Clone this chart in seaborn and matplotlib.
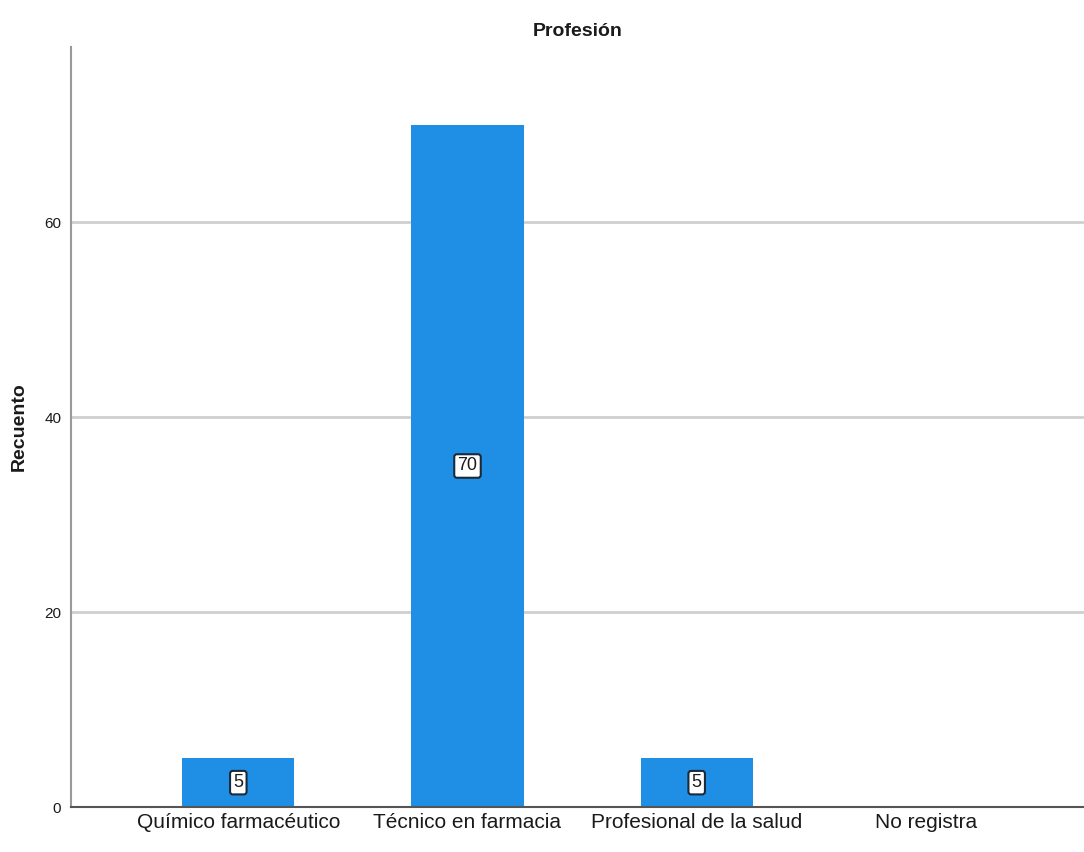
import matplotlib
matplotlib.use("Agg")
import matplotlib.pyplot as plt
import seaborn as sns
import pandas as pd
from matplotlib import font_manager

categories = ["Químico farmacéutico", "Técnico en farmacia", "Profesional de la salud", "No registra"]
counts = [5, 70, 5, 0]
yticks = [0, 20, 40, 60]

sns.set_theme(style="white")
names = {f.name for f in font_manager.fontManager.ttflist}
narrow = "Liberation Sans Narrow" if "Liberation Sans Narrow" in names else "Liberation Sans"
plt.rcParams['font.family'] = [narrow, 'DejaVu Sans']
plt.rcParams['text.color'] = '#1a1a1a'
plt.rcParams['xtick.color'] = '#1a1a1a'
plt.rcParams['ytick.color'] = '#1a1a1a'
plt.rcParams['axes.labelcolor'] = '#1a1a1a'

df = pd.DataFrame({"Profesión": categories, "Recuento": counts})

fig = plt.figure(figsize=(10.84, 8.52), dpi=100)
ax = fig.add_axes([0.0655, 0.0528, 0.9345, 0.892])
sns.barplot(data=df, x="Profesión", y="Recuento", order=categories, color="#1E8FE4",
            width=0.49, saturation=1, linewidth=0, ax=ax, zorder=3)

ax.set_ylim(0, 78)
ax.set_xlim(-0.73, 3.69)
ax.set_yticks(yticks)
ax.set_yticklabels([str(v) for v in yticks], fontsize=11)
ax.set_xticks(range(len(categories)))
ax.set_xticklabels(categories, fontsize=15)
ax.tick_params(axis='both', length=0, pad=4)
ax.tick_params(axis='y', pad=7)
for y in yticks[1:]:
    ax.axhline(y, color="#cfcfcf", lw=2, zorder=1)

for s in ["top", "right"]:
    ax.spines[s].set_visible(False)
ax.spines["left"].set_color("#999999")
ax.spines["left"].set_linewidth(1.5)
ax.spines["bottom"].set_color("#555555")
ax.spines["bottom"].set_linewidth(1.5)
ax.spines["bottom"].set_zorder(5)

ax.set_xlabel("")
ax.set_ylabel("Recuento", fontsize=14, fontweight="bold", family="Liberation Sans", labelpad=12)
ax.set_title("Profesión", fontsize=14, fontweight="bold", pad=8)

for i, v in enumerate(counts):
    if v > 0:
        ax.text(i, v / 2, str(v), ha="center", va="center", fontsize=13, zorder=6,
                bbox=dict(boxstyle="round,pad=0.18,rounding_size=0.15", fc="white", ec="#1b2a3a", lw=1.5))

fig.savefig("out.png", dpi=100)
